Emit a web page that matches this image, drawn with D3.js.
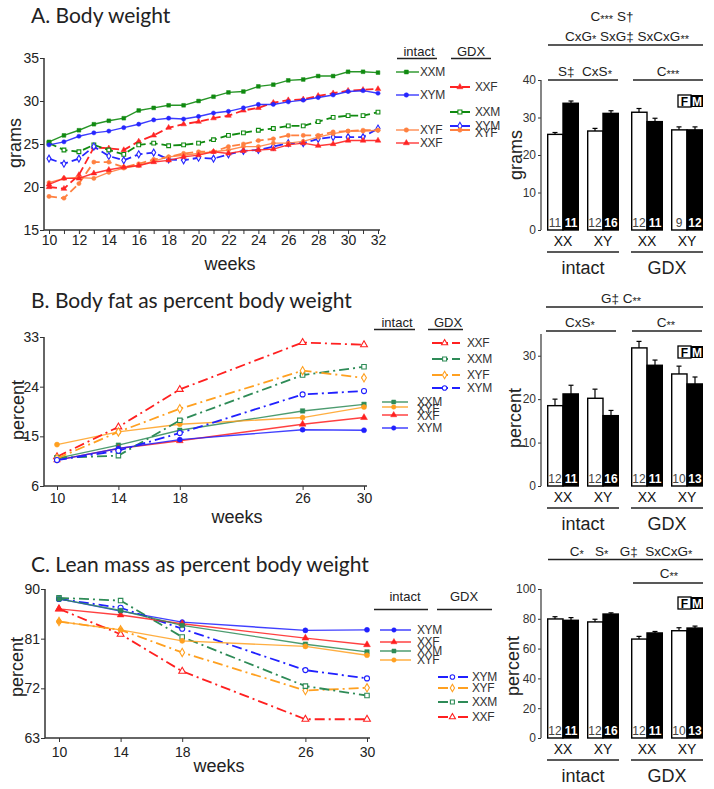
<!DOCTYPE html>
<html><head><meta charset="utf-8">
<script src="https://cdn.jsdelivr.net/npm/d3@7"></script>
<style>body{margin:0;background:#fff}svg{font-family:Arial,"Liberation Sans",sans-serif}</style>
</head><body><svg id="c" width="714" height="789"></svg>
<script>
// ---------------- DATA ----------------
const weeksA = [10,11,12,13,14,15,16,17,18,19,20,21,22,23,24,25,26,27,28,29,30,31,32];
const A_int_XXM = [25.25,26.0,26.6,27.3,27.7,28.0,28.9,29.2,29.5,29.5,30.0,30.5,31.0,31.1,31.7,31.9,32.4,32.5,32.9,32.9,33.4,33.4,33.3];
const A_int_XYM = [24.9,25.25,25.9,26.3,26.5,26.9,27.3,27.8,28.0,27.9,28.2,28.6,28.8,29.2,29.6,29.6,29.9,30.1,30.4,30.7,31.1,31.2,30.9];
const A_int_XYF = [20.5,21.0,21.1,21.0,21.7,22.2,22.5,23.0,23.5,23.7,23.9,24.1,24.3,24.7,24.7,25.1,25.1,25.3,25.8,26.2,26.5,26.5,26.6];
const A_int_XXF = [20.3,21.0,21.0,21.6,22.0,22.3,22.5,22.9,23.1,23.5,23.7,24.1,23.9,24.2,24.3,24.4,24.9,25.1,24.8,25.0,25.4,25.4,25.4];
const A_gdx_XXF = [20.0,19.8,21.4,24.6,24.5,24.3,25.3,26.0,26.9,27.3,27.6,28.0,28.3,28.9,29.2,29.8,30.1,30.2,30.6,30.9,31.2,31.3,31.4];
const A_gdx_XXM = [25.1,24.3,24.1,24.9,24.3,23.8,24.9,25.1,24.8,24.9,25.1,25.5,26.0,26.3,26.6,26.8,27.1,27.1,27.6,28.1,28.3,28.3,28.7];
const A_gdx_XYM = [23.3,22.7,23.3,24.7,23.6,23.1,23.8,24.0,23.2,23.1,23.4,23.3,23.8,24.2,24.3,24.7,25.1,25.1,25.6,25.8,25.8,25.8,26.8];
const A_gdx_XYF = [18.9,18.7,20.4,22.9,22.9,22.3,22.7,23.2,23.5,23.9,24.1,24.1,24.7,25.0,25.4,25.6,26.0,26.0,26.0,26.4,26.5,26.6,26.6];

const weeksBC = [10,14,18,26,30];
const B_int_XXM = [11.0,13.4,16.1,19.6,20.8];
const B_int_XYF = [13.5,15.8,17.2,18.4,20.3];
const B_int_XXF = [10.7,12.8,14.2,17.2,18.4];
const B_int_XYM = [10.7,12.8,14.4,16.2,16.1];
const B_gdx_XXF = [11.3,16.7,23.5,32.0,31.6];
const B_gdx_XXM = [11.1,11.5,17.9,26.1,27.6];
const B_gdx_XYF = [11.0,15.8,20.0,26.9,25.6];
const B_gdx_XYM = [10.7,12.4,15.6,22.6,23.2];

const C_int_XYM = [88.2,86.0,84.0,82.5,82.6];
const C_int_XXF = [86.4,85.3,83.7,81.1,79.9];
const C_int_XXM = [88.2,86.1,83.4,80.0,78.6];
const C_int_XYF = [84.1,82.6,80.6,79.6,78.0];
const C_gdx_XYM = [88.2,86.6,82.8,75.3,73.8];
const C_gdx_XYF = [84.1,82.6,78.5,71.6,72.1];
const C_gdx_XXM = [88.4,87.9,81.3,72.4,70.7];
const C_gdx_XXF = [86.4,81.8,75.1,66.4,66.4];

const ticksA_y = [15,20,25,30,35];
const ticksB_y = [6,15,24,33];
const ticksC_y = [63,72,81,90];

// bar clusters: intact XX, intact XY, GDX XX, GDX XY
const barGroups = ["intact","intact","GDX","GDX"];
const barGenos  = ["XX","XY","XX","XY"];
const barA_F = [25.5,26.4,31.4,26.7], barA_M = [33.8,31.1,28.9,26.7];
const errA_F = [0.5,0.7,1.0,0.8],     errA_M = [0.6,0.7,0.9,0.8];
const nA_F = [11,12,12,9],            nA_M = [11,16,11,12];
const barB_F = [18.5,20.2,31.8,25.8], barB_M = [21.2,16.2,27.8,23.5];
const errB_F = [1.5,2.1,1.5,1.8],     errB_M = [2.0,1.2,1.2,1.6];
const nB_F = [12,12,12,10],           nB_M = [11,16,11,13];
const barC_F = [79.9,77.9,66.4,72.0], barC_M = [79.0,83.2,70.5,73.8];
const errC_F = [1.5,1.8,1.8,2.0],     errC_M = [1.8,0.8,1.0,1.3];
const nC_F = [12,12,12,10],           nC_M = [11,16,11,13];
const ticksA_bar = [0,10,20,30,40];
const ticksB_bar = [0,10,20,30];
const ticksC_bar = [0,20,40,60,80,100];

// ---------------- DRAWING ----------------
const svg = d3.select("#c");
const SYM = {square:d3.symbolSquare, circle:d3.symbolCircle, triangle:d3.symbolTriangle, diamond:d3.symbolDiamond};
const colA = {g:"#108a10", b:"#2626ff", r:"#ff2424", o:"#ff8040"};
const colB = {g:"#2e8b57", b:"#2020ff", r:"#ff2020", o:"#ffa020"};

function drawMarker(g, x, y, s, size) {
  g.append("path").attr("d", d3.symbol().type(SYM[s.sym]).size(size)())
    .attr("transform", `translate(${x},${y})`)
    .attr("fill", s.open ? "#fff" : s.color).attr("stroke", s.color)
    .attr("stroke-width", s.open ? 1.1 : 0.5);
}

function styleAxis(a, fs) {
  a.attr("font-family", "Arial, 'Liberation Sans', sans-serif").attr("font-size", fs);
  a.selectAll("text").attr("fill", "#222");
  a.selectAll("line").attr("stroke", "#333");
}

function linePanel(c) {
  const x = d3.scaleLinear().domain(c.xDomain).range(c.xRange);
  const y = d3.scaleLinear().domain(c.yDomain).range(c.yRange);
  const g = svg.append("g");
  const y0 = y(c.yDomain[0]);
  const ay = g.append("g").attr("transform", `translate(${c.axisX},0)`)
    .call(d3.axisLeft(y).tickValues(c.yTicks).tickSize(4).tickPadding(1));
  ay.select(".domain").remove(); styleAxis(ay, 14);
  const ax = g.append("g").attr("transform", `translate(0,${y0})`)
    .call(d3.axisBottom(x).tickValues(c.xTicks).tickFormat(c.xFmt || (d => d)).tickSize(4).tickPadding(c.xPad));
  ax.select(".domain").remove(); styleAxis(ax, 14);
  g.append("line").attr("x1", c.axisX).attr("x2", c.axisX).attr("y1", y(c.yDomain[1])).attr("y2", y0)
    .attr("stroke", "#333").attr("stroke-width", 1.5);
  g.append("line").attr("x1", c.axisX).attr("x2", c.axisEnd).attr("y1", y0).attr("y2", y0)
    .attr("stroke", "#333").attr("stroke-width", 1.5);
  const line = d3.line().x((d, i) => x(c.weeks[i])).y(d => y(d));
  c.series.forEach(s => {
    g.append("path").datum(s.vals).attr("d", line).attr("fill", "none")
      .attr("stroke", s.color).attr("stroke-width", s.dash ? c.lwD : c.lw)
      .attr("stroke-opacity", s.dash ? 1 : c.solidOp)
      .attr("stroke-dasharray", s.dash ? c.dash : null);
    s.vals.forEach((v, i) => drawMarker(g, x(c.weeks[i]), y(v), s, c.msize));
  });
  g.append("text").attr("x", c.xlab[0]).attr("y", c.xlab[1]).attr("text-anchor", "middle")
    .attr("font-size", 18).attr("fill", "#222").text("weeks");
  g.append("text").attr("transform", `translate(${c.ylab[0]},${c.ylab[1]}) rotate(-90)`)
    .attr("text-anchor", "middle").attr("dy", "0.35em").attr("font-size", 18).attr("fill", "#222").text(c.ylabText);
  svg.append("text").attr("x", 31).attr("y", c.titleY).attr("font-family", "Lato, 'Open Sans', sans-serif")
    .attr("font-size", 21).attr("fill", "#222").text(c.title);
}

function legendHeader(xi, xg, y, ul) {
  const g = svg.append("g").attr("font-size", 13).attr("fill", "#222");
  g.append("text").attr("x", xi).attr("y", y).attr("text-anchor", "middle").text("intact");
  g.append("text").attr("x", xg).attr("y", y).attr("text-anchor", "middle").text("GDX");
  g.append("line").attr("x1", ul[0]).attr("x2", ul[1]).attr("y1", ul[4]).attr("y2", ul[4]).attr("stroke", "#222").attr("stroke-width", 1.3);
  g.append("line").attr("x1", ul[2]).attr("x2", ul[3]).attr("y1", ul[4]).attr("y2", ul[4]).attr("stroke", "#222").attr("stroke-width", 1.3);
}

function legendItem(s, x1, x2, y, tx, ty, dash) {
  const g = svg.append("g");
  g.append("line").attr("x1", x1).attr("x2", x2).attr("y1", y).attr("y2", y)
    .attr("stroke", s.color).attr("stroke-width", s.dash ? 2 : 1.5).attr("stroke-dasharray", s.dash ? dash : null)
    .attr("stroke-opacity", s.dash ? 1 : 0.85);
  drawMarker(g, x1 + (x2 - x1) * 0.45, y, s, 16);
  g.append("text").attr("x", tx).attr("y", ty).attr("font-size", 12).attr("letter-spacing", -0.4)
    .attr("fill", "#333").text(s.name);
}

function annot(parts, cx, y, line) {
  const t = svg.append("text").attr("x", cx).attr("y", y).attr("text-anchor", "middle")
    .attr("font-size", 13.5).attr("fill", "#222").style("white-space", "pre");
  let shifted = false;
  parts.forEach(p => {
    const ts = t.append("tspan").attr("font-size", p[1] ? 11 : 13.5).text(p[0]);
    if (p[1] && !shifted) { ts.attr("dy", 2); shifted = true; }
    else if (!p[1] && shifted) { ts.attr("dy", -2); shifted = false; }
  });
  if (line) svg.append("line").attr("x1", line[0]).attr("x2", line[1]).attr("y1", line[2]).attr("y2", line[2])
    .attr("stroke", "#222").attr("stroke-width", 1.3);
}

function barPanel(c) {
  const y = d3.scaleLinear().domain(c.yDomain).range([c.y0, c.yTop]);
  const outer = d3.scaleBand().domain(["intact", "GDX"]).range([547, 703]).paddingInner(0.143);
  const geno = d3.scaleBand().domain(["XX", "XY"]).range([0, outer.bandwidth()]).paddingInner(0.2);
  const sex = d3.scaleBand().domain(["F", "M"]).range([0, geno.bandwidth()]);
  const g = svg.append("g");
  const ay = g.append("g").attr("transform", "translate(541,0)")
    .call(d3.axisLeft(y).tickValues(c.ticks).tickSize(3).tickPadding(2));
  ay.select(".domain").remove(); styleAxis(ay, 12);
  ay.selectAll("text").attr("fill", "#333");
  g.append("line").attr("x1", 541).attr("x2", 541).attr("y1", c.y0).attr("y2", c.yTop).attr("stroke", "#444").attr("stroke-width", 1.3);
  barGroups.forEach((grp, i) => {
    const gx = outer(grp) + geno(barGenos[i]);
    [["F", c.F[i], c.eF[i], c.nF[i]], ["M", c.M[i], c.eM[i], c.nM[i]]].forEach(([sx, v, e, n]) => {
      const bx = gx + sex(sx), bw = sex.bandwidth();
      const cx = bx + bw / 2;
      g.append("line").attr("x1", cx).attr("x2", cx).attr("y1", y(v)).attr("y2", y(v + e)).attr("stroke", "#000").attr("stroke-width", 1.2);
      g.append("line").attr("x1", cx - 2.5).attr("x2", cx + 2.5).attr("y1", y(v + e)).attr("y2", y(v + e)).attr("stroke", "#000").attr("stroke-width", 1.2);
      g.append("rect").attr("x", bx + (sx === "F" ? 0.7 : 0)).attr("y", y(v)).attr("width", bw - 0.7).attr("height", c.y0 - y(v))
        .attr("fill", sx === "F" ? "#fff" : "#000").attr("stroke", "#000").attr("stroke-width", 1.4);
      g.append("text").attr("x", cx).attr("y", c.y0 - 3).attr("text-anchor", "middle").attr("font-size", 12)
        .attr("font-weight", sx === "F" ? "normal" : "bold").attr("fill", sx === "F" ? "#444" : "#fff").text(n);
    });
    g.append("text").attr("x", gx + geno.bandwidth() / 2).attr("y", c.y0 + 16).attr("text-anchor", "middle")
      .attr("font-size", 14).attr("fill", "#111").text(barGenos[i]);
  });
  outer.domain().forEach(grp => {
    g.append("line").attr("x1", outer(grp)).attr("x2", outer(grp) + outer.bandwidth()).attr("y1", c.y0 + 22).attr("y2", c.y0 + 22)
      .attr("stroke", "#222").attr("stroke-width", 1.3);
    g.append("text").attr("x", outer(grp) + outer.bandwidth() / 2).attr("y", c.y0 + 44).attr("text-anchor", "middle")
      .attr("font-size", 18).attr("fill", "#222").text(grp);
  });
  g.append("text").attr("transform", `translate(${c.ylab[0]},${c.ylab[1]}) rotate(-90)`)
    .attr("text-anchor", "middle").attr("dy", "0.35em").attr("font-size", 18).attr("fill", "#222").text(c.ylabText);
  const k = c.key;
  g.append("rect").attr("x", 678).attr("y", k).attr("width", 13).attr("height", 12).attr("fill", "#fff").attr("stroke", "#000").attr("stroke-width", 1.3);
  g.append("rect").attr("x", 691).attr("y", k).attr("width", 12).attr("height", 12).attr("fill", "#000");
  g.append("text").attr("x", 684.5).attr("y", k + 10.5).attr("text-anchor", "middle").attr("font-size", 12).attr("font-weight", "bold").attr("fill", "#000").text("F");
  g.append("text").attr("x", 697).attr("y", k + 10.5).attr("text-anchor", "middle").attr("font-size", 12).attr("font-weight", "bold").attr("fill", "#fff").text("M");
}

// ---------- Panel A ----------
const serA_int = [
  {name:"XXM", vals:A_int_XXM, color:colA.g, sym:"square", open:false},
  {name:"XYM", vals:A_int_XYM, color:colA.b, sym:"circle", open:false},
  {name:"XYF", vals:A_int_XYF, color:colA.o, sym:"circle", open:false},
  {name:"XXF", vals:A_int_XXF, color:colA.r, sym:"triangle", open:false}];
const serA_gdx = [
  {name:"XXF", vals:A_gdx_XXF, color:colA.r, sym:"triangle", open:false, dash:true},
  {name:"XXM", vals:A_gdx_XXM, color:colA.g, sym:"square", open:true, dash:true},
  {name:"XYM", vals:A_gdx_XYM, color:colA.b, sym:"diamond", open:true, dash:true},
  {name:"XYF", vals:A_gdx_XYF, color:colA.o, sym:"circle", open:false, dash:true}];
linePanel({weeks:weeksA, xDomain:[10,32], xRange:[49,378], yDomain:[15,35], yRange:[230,58],
  axisX:44, axisEnd:380, xTicks:weeksA, xFmt:d => d % 2 === 0 ? d : "", xPad:1, yTicks:ticksA_y,
  series:[...serA_gdx, ...serA_int], lw:1.4, lwD:1.8, dash:"8,4", solidOp:0.9, msize:14,
  xlab:[230, 270], ylab:[15, 143], ylabText:"grams", title:"A. Body weight", titleY:23});
legendHeader(419, 471, 56, [397, 437, 451, 491, 58.5]);
legendItem(serA_int[0], 396, 419, 72, 420, 76, "8,4");
legendItem(serA_int[1], 396, 419, 95, 420, 99, "8,4");
legendItem(serA_int[2], 396, 419, 130, 420, 134, "8,4");
legendItem(serA_int[3], 396, 419, 143, 420, 147, "8,4");
legendItem(serA_gdx[0], 450, 472, 87, 475, 91, "8,4");
legendItem(serA_gdx[1], 450, 472, 112, 475, 116, "8,4");
legendItem(serA_gdx[2], 450, 472, 126, 475, 130, "8,4");
legendItem(serA_gdx[3], 450, 472, 130, 475, 137, "8,4");
barPanel({yDomain:[0,40], y0:230, yTop:80, ticks:ticksA_bar, F:barA_F, M:barA_M, eF:errA_F, eM:errA_M, nF:nA_F, nM:nA_M,
  ylab:[516, 155], ylabText:"grams", key:95});
annot([["C"],["***",1],[" S†"]], 612, 21);
annot([["CxG"],["*",1],[" SxG‡ SxCxG"],["**",1]], 627, 41, [548, 703, 45]);
annot([["S‡  CxS"],["*",1]], 585, 76, [548, 618, 80]);
annot([["C"],["***",1]], 668, 76, [633, 703, 80]);

// ---------- Panel B ----------
const serB_gdx = [
  {name:"XXF", vals:B_gdx_XXF, color:colB.r, sym:"triangle", open:true, dash:true},
  {name:"XXM", vals:B_gdx_XXM, color:colB.g, sym:"square", open:true, dash:true},
  {name:"XYF", vals:B_gdx_XYF, color:colB.o, sym:"diamond", open:true, dash:true},
  {name:"XYM", vals:B_gdx_XYM, color:colB.b, sym:"circle", open:true, dash:true}];
const serB_int = [
  {name:"XXM", vals:B_int_XXM, color:colB.g, sym:"square", open:false},
  {name:"XYF", vals:B_int_XYF, color:colB.o, sym:"circle", open:false},
  {name:"XXF", vals:B_int_XXF, color:colB.r, sym:"triangle", open:false},
  {name:"XYM", vals:B_int_XYM, color:colB.b, sym:"circle", open:false}];
linePanel({weeks:weeksBC, xDomain:[10,30], xRange:[57,364], yDomain:[6,33], yRange:[486,337],
  axisX:44, axisEnd:367, xTicks:weeksBC, xPad:3, yTicks:ticksB_y,
  series:[...serB_int, ...serB_gdx], lw:1.4, lwD:1.8, dash:"10,4,2,4", solidOp:0.85, msize:20,
  xlab:[237, 523], ylab:[18, 410], ylabText:"percent", title:"B. Body fat as percent body weight", titleY:308});
legendHeader(397, 448, 327, [374, 415, 428, 463, 329.5]);
legendItem(serB_gdx[0], 432, 460, 343, 467, 347, "10,4,2,4");
legendItem(serB_gdx[1], 432, 460, 359, 467, 363, "10,4,2,4");
legendItem(serB_gdx[2], 432, 460, 375, 467, 379, "10,4,2,4");
legendItem(serB_gdx[3], 432, 460, 388, 467, 392, "10,4,2,4");
legendItem(serB_int[0], 382, 408, 402, 417, 406, "");
legendItem(serB_int[1], 382, 408, 407, 417, 413, "");
legendItem(serB_int[2], 382, 408, 415, 417, 420, "");
legendItem(serB_int[3], 382, 408, 428, 417, 432, "");
barPanel({yDomain:[0,35], y0:486, yTop:334, ticks:ticksB_bar, F:barB_F, M:barB_M, eF:errB_F, eM:errB_M, nF:nB_F, nM:nB_M,
  ylab:[515, 418], ylabText:"percent", key:346});
annot([["G‡ C"],["**",1]], 621, 303, [546, 703, 307]);
annot([["CxS"],["*",1]], 580, 327, [546, 616, 331]);
annot([["C"],["**",1]], 666, 327, [632, 702, 331]);

// ---------- Panel C ----------
const serC_int = [
  {name:"XYM", vals:C_int_XYM, color:colB.b, sym:"circle", open:false},
  {name:"XXF", vals:C_int_XXF, color:colB.r, sym:"triangle", open:false},
  {name:"XXM", vals:C_int_XXM, color:colB.g, sym:"square", open:false},
  {name:"XYF", vals:C_int_XYF, color:colB.o, sym:"circle", open:false}];
const serC_gdx = [
  {name:"XYM", vals:C_gdx_XYM, color:colB.b, sym:"circle", open:true, dash:true},
  {name:"XYF", vals:C_gdx_XYF, color:colB.o, sym:"diamond", open:true, dash:true},
  {name:"XXM", vals:C_gdx_XXM, color:colB.g, sym:"square", open:true, dash:true},
  {name:"XXF", vals:C_gdx_XXF, color:colB.r, sym:"triangle", open:true, dash:true}];
linePanel({weeks:weeksBC, xDomain:[10,30], xRange:[59,367], yDomain:[63,90], yRange:[738,589],
  axisX:45, axisEnd:370, xTicks:weeksBC, xPad:5, yTicks:ticksC_y,
  series:[...serC_gdx, ...serC_int], lw:1.4, lwD:1.8, dash:"10,4,2,4", solidOp:0.85, msize:20,
  xlab:[219, 772], ylab:[17, 667], ylabText:"percent", title:"C. Lean mass as percent body weight", titleY:572});
legendHeader(405, 464, 601, [374, 428, 437, 492, 609.5]);
legendItem(serC_int[0], 380, 411, 630, 417, 634, "");
legendItem(serC_int[1], 380, 411, 642, 417, 646, "");
legendItem(serC_int[2], 380, 411, 651, 417, 655, "");
legendItem(serC_int[3], 380, 411, 660, 417, 664, "");
legendItem(serC_gdx[0], 438, 470, 677, 472, 681, "10,4,2,4");
legendItem(serC_gdx[1], 438, 470, 688, 472, 692, "10,4,2,4");
legendItem(serC_gdx[2], 438, 470, 702, 472, 706, "10,4,2,4");
legendItem(serC_gdx[3], 438, 470, 717, 472, 721, "10,4,2,4");
barPanel({yDomain:[0,100], y0:738, yTop:589, ticks:ticksC_bar, F:barC_F, M:barC_M, eF:errC_F, eM:errC_M, nF:nC_F, nM:nC_M,
  ylab:[513, 666], ylabText:"percent", key:597});
annot([["C"],["*",1],["   S"],["*",1],["   G‡  SxCxG"],["*",1]], 631, 556, [548, 703, 559.5]);
annot([["C"],["**",1]], 669, 578, [633, 703, 583]);
</script></body></html>
